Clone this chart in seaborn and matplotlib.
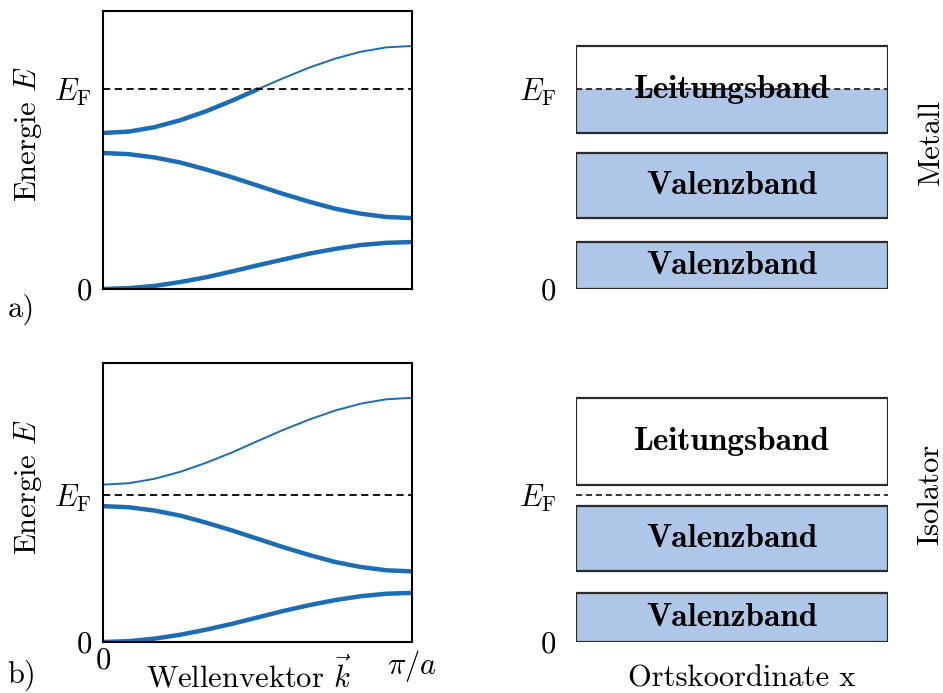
import numpy as np
import pandas as pd
import matplotlib
matplotlib.use("Agg")
import matplotlib.pyplot as plt
import seaborn as sns

# wave vector k, in units of pi/a
k = [0.0, 0.083, 0.167, 0.25, 0.333, 0.417, 0.5, 0.583, 0.667, 0.75, 0.833, 0.917, 1.0]

# a) Metall - energies (arbitrary units, axis 0..10)
metal_band1 = [0.0, 0.03, 0.11, 0.25, 0.42, 0.63, 0.85, 1.06, 1.27, 1.44, 1.58, 1.66, 1.69]
metal_band2 = [4.89, 4.85, 4.73, 4.55, 4.30, 4.02, 3.72, 3.42, 3.14, 2.89, 2.71, 2.59, 2.55]
metal_band3 = [5.61, 5.66, 5.82, 6.07, 6.39, 6.77, 7.18, 7.58, 7.96, 8.28, 8.53, 8.69, 8.74]
metal_EF = 7.19

# b) Isolator
iso_band1 = [0.0, 0.03, 0.12, 0.26, 0.44, 0.65, 0.88, 1.11, 1.32, 1.50, 1.64, 1.73, 1.76]
iso_band2 = [4.87, 4.83, 4.71, 4.53, 4.28, 4.00, 3.70, 3.40, 3.12, 2.87, 2.69, 2.57, 2.53]
iso_band3 = [5.64, 5.69, 5.85, 6.10, 6.42, 6.79, 7.20, 7.60, 7.97, 8.29, 8.54, 8.70, 8.75]
iso_EF = 5.26

band_names = ["Valenzband", "Valenzband", "Leitungsband"]

sns.set_theme(style="white")
plt.rcParams["font.family"] = ["cmr10", "DejaVu Serif"]
plt.rcParams["mathtext.fontset"] = "cm"
plt.rcParams["axes.formatter.use_mathtext"] = True
plt.rcParams["axes.unicode_minus"] = False
for key in ["text.color", "axes.labelcolor", "xtick.color", "ytick.color"]:
    plt.rcParams[key] = "black"

blue = "#1b6db4"
fill = "#aec7e8"
edge = "#2b2b2b"
fs = 22

fig = plt.figure(figsize=(9.43, 6.93), dpi=100)


def band_panel(ax, bands, EF, bottom_row):
    for E in bands:
        df = pd.DataFrame({"k": k, "E": E})
        occ = df[df["E"] <= EF + 0.05]
        if len(occ) > 0:
            sns.lineplot(data=occ, x="k", y="E", ax=ax, color=blue, linewidth=3.2,
                         sort=False, estimator=None)
        free = df[df["E"] > EF + 0.05]
        if len(free) > 0:
            # join to last occupied point
            start = max(free.index[0] - 1, 0) if len(occ) > 0 else free.index[0]
            sns.lineplot(data=df.loc[start:], x="k", y="E", ax=ax, color=blue,
                         linewidth=1.4, sort=False, estimator=None)
    ax.axhline(EF, color="black", lw=1.3, ls=(0, (4, 2.5)))
    ax.set_xlim(0, 1)
    ax.set_ylim(0, 10)
    ax.set_yticks([0, EF])
    ax.set_yticklabels(["0", r"$E_\mathrm{F}$"], fontsize=fs)
    ax.tick_params(axis="both", length=0, pad=8)
    for s in ax.spines.values():
        s.set_color("black")
        s.set_linewidth(1.5)
    ax.set_ylabel(r"Energie $E$", fontsize=fs)
    ax.yaxis.set_label_coords(-0.192, 0.557)
    if bottom_row:
        ax.set_xticks([0, 1])
        ax.set_xticklabels(["0", r"$\pi/a$"], fontsize=fs)
        ax.tick_params(axis="x", pad=4)
        ax.set_xlabel(r"Wellenvektor $\vec{k}$", fontsize=fs)
        ax.xaxis.set_label_coords(0.474, -0.052)
    else:
        ax.set_xticks([])
        ax.set_xlabel("")


def box_panel(ax, bands, EF, name, bottom_row):
    for E, label in zip(bands, band_names):
        lo, hi = min(E), max(E)
        if lo < EF:
            ax.bar(0.5, min(hi, EF) - lo, bottom=lo, width=1.0, color=fill,
                   linewidth=0, zorder=1)
        ax.bar(0.5, hi - lo, bottom=lo, width=1.0, facecolor="none",
               edgecolor=edge, linewidth=1.6, zorder=3)
        ax.text(0.5, (lo + hi) / 2, label, ha="center", va="center",
                fontsize=24, fontfamily="cmb10", zorder=4)
    ax.axhline(EF, color="black", lw=1.1, ls=(0, (4, 2.5)), zorder=2)
    ax.set_xlim(0, 1)
    ax.set_ylim(0, 10)
    ax.set_yticks([0, EF])
    ax.set_yticklabels(["0", r"$E_\mathrm{F}$"], fontsize=fs)
    ax.set_xticks([])
    ax.tick_params(axis="both", length=0, pad=14)
    sns.despine(ax=ax, left=True, bottom=True)
    ax2 = ax.twinx()
    ax2.set_yticks([])
    sns.despine(ax=ax2, left=True, bottom=True, right=True)
    ax2.set_ylabel(name, fontsize=fs, rotation=90)
    ax2.yaxis.set_label_coords(1.093, 0.53)
    if bottom_row:
        ax.set_xlabel("Ortskoordinate x", fontsize=fs)
        ax.xaxis.set_label_coords(0.53, -0.083)


ax_a = fig.add_axes([0.1092, 0.583, 0.3277, 0.4012])
ax_b = fig.add_axes([0.1092, 0.0736, 0.3277, 0.4026])
ax_c = fig.add_axes([0.6108, 0.583, 0.3309, 0.4012])
ax_d = fig.add_axes([0.6108, 0.0736, 0.3309, 0.4026])

band_panel(ax_a, [metal_band1, metal_band2, metal_band3], metal_EF, False)
band_panel(ax_b, [iso_band1, iso_band2, iso_band3], iso_EF, True)
box_panel(ax_c, [metal_band1, metal_band2, metal_band3], metal_EF, "Metall", False)
box_panel(ax_d, [iso_band1, iso_band2, iso_band3], iso_EF, "Isolator", True)

fig.text(0.023, 0.553, "a)", fontsize=fs, ha="center", va="center")
fig.text(0.023, 0.025, "b)", fontsize=fs, ha="center", va="center")

fig.savefig("out.png", dpi=100)
